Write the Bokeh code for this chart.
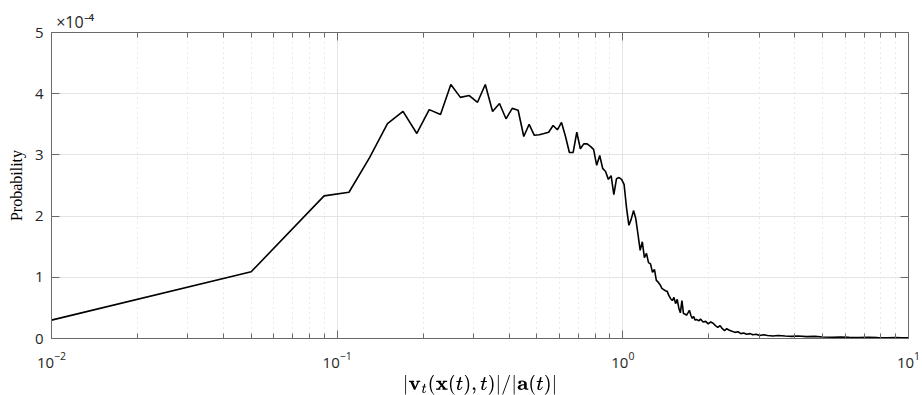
from bokeh.plotting import figure
from bokeh.models import (ColumnDataSource, LogAxis, LinearAxis, LogTicker,
                          FixedTicker, Range1d, CustomJSTickFormatter)
from bokeh.embed import file_html
from bokeh.resources import INLINE

# ratio |v_t| / |a| (bin centres)
ratio = [0.01, 0.05, 0.09, 0.11, 0.13, 0.15, 0.17, 0.19, 0.21, 0.23,
         0.25, 0.27, 0.29, 0.31, 0.33, 0.35, 0.37, 0.39, 0.41, 0.43,
         0.45, 0.47, 0.49, 0.51, 0.53, 0.55, 0.57, 0.59, 0.61, 0.63,
         0.65, 0.67, 0.69, 0.71, 0.73, 0.75, 0.77, 0.79, 0.81, 0.83,
         0.85, 0.87, 0.89, 0.91, 0.93, 0.95, 0.97, 0.99, 1.01, 1.03,
         1.05, 1.07, 1.09, 1.11, 1.13, 1.15, 1.17, 1.19, 1.21, 1.23,
         1.25, 1.27, 1.29, 1.31, 1.33, 1.35, 1.37, 1.39, 1.41, 1.43,
         1.45, 1.47, 1.49, 1.51, 1.53, 1.55, 1.57, 1.59, 1.61, 1.63,
         1.65, 1.67, 1.69, 1.71, 1.73, 1.75, 1.77, 1.79, 1.81, 1.85,
         1.87, 1.91, 1.95, 1.99, 2.03, 2.07, 2.11, 2.15, 2.19, 2.23,
         2.27, 2.31, 2.35, 2.41, 2.47, 2.53, 2.59, 2.65, 2.71, 2.79,
         2.85, 2.93, 3.01, 3.11, 3.21, 3.35, 3.5, 3.7, 3.9, 4.1,
         4.4, 4.7, 5.0, 5.4, 5.8, 6.2, 6.7, 7.2, 7.8, 8.4,
         9.0, 9.5, 9.99]

# probability, in units of 1e-4
prob = [0.30, 1.09, 2.33, 2.39, 2.96, 3.51, 3.71, 3.35, 3.74, 3.66,
        4.15, 3.94, 3.97, 3.86, 4.15, 3.71, 3.84, 3.59, 3.76, 3.73,
        3.30, 3.50, 3.32, 3.33, 3.35, 3.37, 3.48, 3.41, 3.53, 3.30,
        3.04, 3.04, 3.37, 3.10, 3.18, 3.18, 3.14, 3.09, 2.83, 2.99,
        2.78, 2.73, 2.60, 2.66, 2.35, 2.61, 2.63, 2.60, 2.52, 2.14,
        1.85, 1.95, 2.09, 1.96, 1.70, 1.44, 1.58, 1.32, 1.39, 1.24,
        1.22, 1.08, 1.13, 0.95, 0.92, 0.88, 0.82, 0.80, 0.78, 0.77,
        0.70, 0.65, 0.62, 0.67, 0.57, 0.64, 0.50, 0.42, 0.62, 0.41,
        0.40, 0.38, 0.42, 0.46, 0.38, 0.33, 0.36, 0.30, 0.31, 0.29,
        0.32, 0.27, 0.28, 0.24, 0.27, 0.25, 0.21, 0.18, 0.21, 0.16,
        0.13, 0.16, 0.14, 0.12, 0.10, 0.11, 0.08, 0.09, 0.07, 0.08,
        0.06, 0.07, 0.05, 0.06, 0.05, 0.04, 0.05, 0.04, 0.035, 0.04,
        0.03, 0.035, 0.025, 0.02, 0.025, 0.02, 0.015, 0.02, 0.015, 0.012,
        0.015, 0.01, 0.01]

y_ticks = [0, 1, 2, 3, 4, 5]
y_multiplier = "×10⁻⁴"
MULT_POS = 0.0121  # layout anchor for the multiplier text (x position)

src = ColumnDataSource(data=dict(x=ratio, y=prob))

p = figure(x_axis_type="log", output_backend="svg", toolbar_location=None,
           frame_width=857, frame_height=306,
           x_range=Range1d(0.01, 10), y_range=Range1d(0, 5),
           min_border_left=51, min_border_right=14, min_border_top=32,
           min_border_bottom=57, background_fill_color="white",
           border_fill_color="white")
p.outline_line_color = None

p.line("x", "y", source=src, line_color="black", line_width=1.6)

AX = "#6a6a6a"
TXT = "#262626"

# bottom axis
xa = p.xaxis[0]
xa.ticker = LogTicker(num_minor_ticks=10)
xa.axis_line_color = AX
xa.major_tick_line_color = AX
xa.minor_tick_line_color = AX
xa.major_tick_in = 8
xa.major_tick_out = 0
xa.minor_tick_in = 5
xa.minor_tick_out = 0
xa.major_label_text_font = "Open Sans"
xa.major_label_text_font_size = "15px"
xa.major_label_text_color = TXT
xa.major_label_standoff = 13
xa.axis_label = r"$$|\mathbf{v}_t(\mathbf{x}(t),t)|/|\mathbf{a}(t)|$$"
xa.axis_label_text_font_size = "17px"
xa.axis_label_standoff = 4
xa.axis_label_text_color = "black"

# left axis
ya = p.yaxis[0]
ya.ticker = FixedTicker(ticks=y_ticks)
ya.axis_line_color = AX
ya.major_tick_line_color = AX
ya.minor_tick_line_color = None
ya.major_tick_in = 8
ya.major_tick_out = 0
ya.major_label_text_font = "Open Sans"
ya.major_label_text_font_size = "15px"
ya.major_label_text_color = TXT
ya.major_label_standoff = 8
ya.axis_label = "Probability"
ya.axis_label_text_font = "Liberation Serif"
ya.axis_label_text_font_style = "normal"
ya.axis_label_text_font_size = "16px"
ya.axis_label_text_color = "black"
ya.axis_label_standoff = 7

# top axis: ticks only
top = LogAxis(ticker=LogTicker(num_minor_ticks=10), axis_line_color=AX,
              major_tick_line_color=AX, minor_tick_line_color=AX,
              major_tick_in=8, major_tick_out=0, minor_tick_in=5,
              minor_tick_out=0, major_label_text_color=None,
              major_label_text_font_size="1px", major_label_standoff=0)
p.add_layout(top, "above")

# outer top axis carrying only the exponent multiplier text
mult_axis = LogAxis(ticker=FixedTicker(ticks=[MULT_POS]), axis_line_color=None,
                    major_tick_line_color=None, minor_tick_line_color=None,
                    major_tick_out=0, major_tick_in=0,
                    major_label_text_color=TXT,
                    major_label_text_font="Open Sans",
                    major_label_text_font_size="16px",
                    major_label_standoff=0,
                    formatter=CustomJSTickFormatter(
                        args=dict(m=y_multiplier), code="return m;"))
p.add_layout(mult_axis, "above")

right = LinearAxis(ticker=FixedTicker(ticks=y_ticks), axis_line_color=AX,
                   major_tick_line_color=AX, minor_tick_line_color=None,
                   major_tick_in=8, major_tick_out=0,
                   major_label_text_color=None,
                   major_label_text_font_size="1px", major_label_standoff=0)
p.add_layout(right, "right")

# grids
p.xgrid.grid_line_color = "#e4e4e4"
p.xgrid.minor_grid_line_color = "#d4d4d4"
p.xgrid.minor_grid_line_dash = "1 4"
p.ygrid.grid_line_color = "#e4e4e4"
p.ygrid.ticker = FixedTicker(ticks=y_ticks)

open("out.html", "w").write(file_html(p, INLINE))
